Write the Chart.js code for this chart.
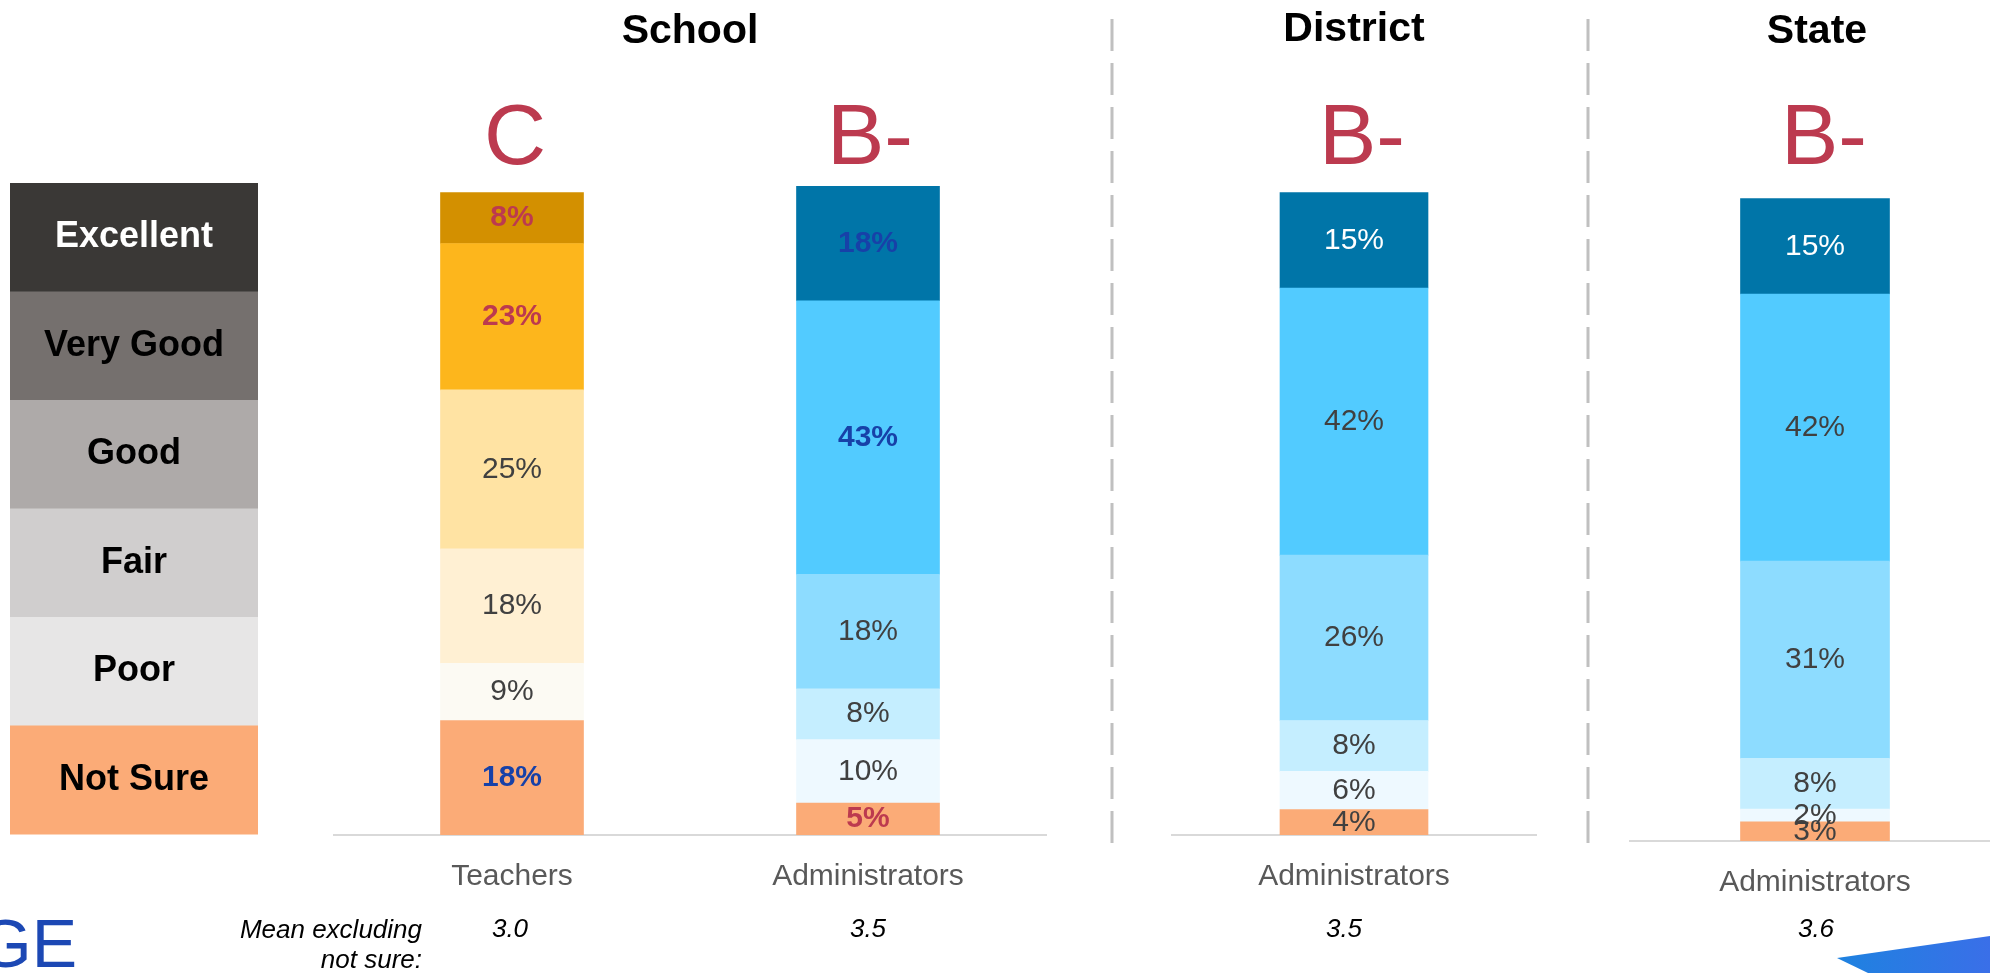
<!DOCTYPE html>
<html><head><meta charset="utf-8">
<script src="https://cdn.jsdelivr.net/npm/chart.js@4.4.1/dist/chart.umd.min.js"></script>
<style>
html,body{margin:0;padding:0;background:#fff;overflow:hidden;width:1990px;height:973px}
canvas{position:absolute;left:0;top:0}
</style></head><body>
<canvas id="cSchool" width="2000" height="973"></canvas>
<canvas id="cDistrict" width="2000" height="973"></canvas>
<canvas id="cState" width="2000" height="973"></canvas>
<script>
// ---------- data ----------
const ratings = ['Excellent', 'Very Good', 'Good', 'Fair', 'Poor', 'Not Sure'];
const panelTitles = ['School', 'District', 'State'];
const schoolGroups = ['Teachers', 'Administrators'];
const districtGroups = ['Administrators'];
const stateGroups = ['Administrators'];
const schoolTeachers = [8, 23, 25, 18, 9, 18];
const schoolAdmins = [18, 43, 18, 8, 10, 5];
const districtAdmins = [15, 42, 26, 8, 6, 4];
const stateAdmins = [15, 42, 31, 8, 2, 3];
const schoolGrades = ['C', 'B-'];
const districtGrades = ['B-'];
const stateGrades = ['B-'];
const schoolMeans = ['3.0', '3.5'];
const districtMeans = ['3.5'];
const stateMeans = ['3.6'];
const meanCaption = ['Mean excluding', 'not sure:'];

// ---------- styles ----------
const FONT = "'Liberation Sans', Arial, Helvetica, sans-serif";
const W = 2000, H = 973;
const RED = '#BC3A4F', BLUE = '#1741A8', GREY = '#404040';
const legendColors = ['#3A3836', '#75706E', '#AEAAA9', '#D0CECE', '#E7E6E6', '#FBAB77'];
const legendTextColors = ['#FFFFFF', '#000000', '#000000', '#000000', '#000000', '#000000'];
const teacherColors = ['#D39000', '#FDB61C', '#FFE3A3', '#FFF0D3', '#FCFAF3', '#FBAB77'];
const adminColors = ['#0075A8', '#52CBFF', '#8DDCFF', '#C5EEFF', '#EEF9FF', '#FBAB77'];
const teacherLabelStyle = [[RED, 'bold'], [RED, 'bold'], [GREY, 'normal'], [GREY, 'normal'], [GREY, 'normal'], [BLUE, 'bold']];
const adminSchoolLabelStyle = [[BLUE, 'bold'], [BLUE, 'bold'], [GREY, 'normal'], [GREY, 'normal'], [GREY, 'normal'], [RED, 'bold']];
const adminLabelStyle = [['#FFFFFF', 'normal'], [GREY, 'normal'], [GREY, 'normal'], [GREY, 'normal'], [GREY, 'normal'], [GREY, 'normal']];

const PX_PER_PCT = 6.36;
const Y_MAX = 110;

function segLabelPlugin(styles) {
  return {
    id: 'segLabels',
    afterDatasetsDraw(chart) {
      const ctx = chart.ctx;
      chart.data.datasets.forEach((ds, i) => {
        const meta = chart.getDatasetMeta(i);
        meta.data.forEach((el, j) => {
          const st = styles[j][ds.ratingIndex];
          ctx.save();
          ctx.font = st[1] + ' 30px ' + FONT;
          ctx.fillStyle = st[0];
          ctx.textAlign = 'center';
          ctx.textBaseline = 'middle';
          ctx.fillText(ds.data[j] + '%', el.x, (el.y + el.base) / 2);
          ctx.restore();
        });
      });
    }
  };
}

function drawMainDecor(ctx) {
  // legend column
  const top = 183, rowH = 108.5;
  ratings.forEach((r, i) => {
    ctx.fillStyle = legendColors[i];
    ctx.fillRect(10, top + i * rowH, 248, rowH + 0.5);
    ctx.font = 'bold 36px ' + FONT;
    ctx.fillStyle = legendTextColors[i];
    ctx.textAlign = 'center';
    ctx.textBaseline = 'middle';
    ctx.fillText(r, 134, top + i * rowH + rowH / 2);
  });
  // dashed separators
  ctx.save();
  ctx.strokeStyle = '#C0C0C0';
  ctx.lineWidth = 3;
  ctx.setLineDash([32, 12]);
  [1112, 1588].forEach(x => {
    ctx.beginPath();
    ctx.moveTo(x, 19);
    ctx.lineTo(x, 843);
    ctx.stroke();
  });
  ctx.restore();
  // mean caption
  ctx.font = 'italic 26px ' + FONT;
  ctx.fillStyle = '#000';
  ctx.textAlign = 'right';
  ctx.textBaseline = 'alphabetic';
  ctx.fillText(meanCaption[0], 422, 938);
  ctx.fillText(meanCaption[1], 422, 968);
  // logo fragment
  ctx.font = '68px ' + FONT;
  ctx.fillStyle = '#1C48B4';
  ctx.textAlign = 'right';
  ctx.fillText('GE', 77, 967);
  // decorative corner shape
  const g = ctx.createLinearGradient(1837, 0, 1990, 0);
  g.addColorStop(0, '#1E82E0');
  g.addColorStop(1, '#3A6FE8');
  ctx.fillStyle = g;
  ctx.beginPath();
  ctx.moveTo(1837, 958);
  ctx.lineTo(1990, 936);
  ctx.lineTo(1990, 973);
  ctx.lineTo(1868, 973);
  ctx.closePath();
  ctx.fill();
}

function decorPlugin(panel) {
  return {
    id: 'panelDecor',
    afterDraw(chart) {
      const ctx = chart.ctx;
      const ca = chart.chartArea;
      ctx.save();
      if (panel.main) drawMainDecor(ctx);
      // panel title
      ctx.font = 'bold 41px ' + FONT;
      ctx.fillStyle = '#000';
      ctx.textAlign = 'center';
      ctx.textBaseline = 'alphabetic';
      const meta = chart.getDatasetMeta(0);
      const titleX = panel.main ? (ca.left + ca.right) / 2 : meta.data[0].x + panel.titleDx;
      ctx.fillText(panel.title, titleX, panel.titleY);
      meta.data.forEach((el, j) => {
        ctx.font = '86px ' + FONT;
        ctx.fillStyle = RED;
        ctx.textAlign = 'center';
        ctx.fillText(panel.grades[j], el.x + panel.gradeDx[j], 164);
        ctx.font = 'italic 26px ' + FONT;
        ctx.fillStyle = '#000';
        ctx.fillText(panel.means[j], el.x + panel.meanDx[j], 937);
      });
      ctx.restore();
    }
  };
}

function makeChart(id, groups, series, colorSets, labelStyles, panel) {
  const order = [5, 4, 3, 2, 1, 0]; // Not Sure at bottom ... Excellent on top
  const datasets = order.map(r => ({
    label: ratings[r],
    data: series.map(s => s[r]),
    backgroundColor: colorSets.map(c => c[r]),
    borderWidth: 0,
    barThickness: panel.barW,
    ratingIndex: r
  }));
  const bottom = panel.axisY;
  return new Chart(document.getElementById(id), {
    type: 'bar',
    data: { labels: groups, datasets },
    options: {
      responsive: false,
      animation: false,
      devicePixelRatio: 1,
      layout: {
        padding: {
          left: panel.left,
          right: W - panel.right,
          top: bottom - Y_MAX * PX_PER_PCT,
          bottom: H - bottom - 60
        }
      },
      plugins: { legend: { display: false }, tooltip: { enabled: false } },
      scales: {
        x: {
          stacked: true,
          grid: { display: false, drawTicks: false },
          border: { display: true, color: '#D9D9D9', width: 2 },
          ticks: { font: { family: FONT, size: 30 }, color: '#595959', padding: 24 },
          afterFit(scale) { scale.height = 60; }
        },
        y: { stacked: true, display: false, min: 0, max: Y_MAX }
      }
    },
    plugins: [segLabelPlugin(labelStyles), decorPlugin(panel)]
  });
}

makeChart('cSchool', schoolGroups, [schoolTeachers, schoolAdmins], [teacherColors, adminColors],
  [teacherLabelStyle, adminSchoolLabelStyle],
  { main: true, title: panelTitles[0], titleY: 43, left: 334, right: 1046, axisY: 835, barW: 143,
    grades: schoolGrades, gradeDx: [3, 2], means: schoolMeans, meanDx: [-2, 0] });

makeChart('cDistrict', districtGroups, [districtAdmins], [adminColors], [adminLabelStyle],
  { main: false, title: panelTitles[1], titleX: 0, titleDx: 0, titleY: 41, left: 1172, right: 1536, axisY: 835, barW: 148,
    grades: districtGrades, gradeDx: [8], means: districtMeans, meanDx: [-10] });

makeChart('cState', stateGroups, [stateAdmins], [adminColors], [adminLabelStyle],
  { main: false, title: panelTitles[2], titleDx: 2, titleY: 43, left: 1630, right: 2000, axisY: 841, barW: 149,
    grades: stateGrades, gradeDx: [9], means: stateMeans, meanDx: [1] });
</script>
</body></html>
